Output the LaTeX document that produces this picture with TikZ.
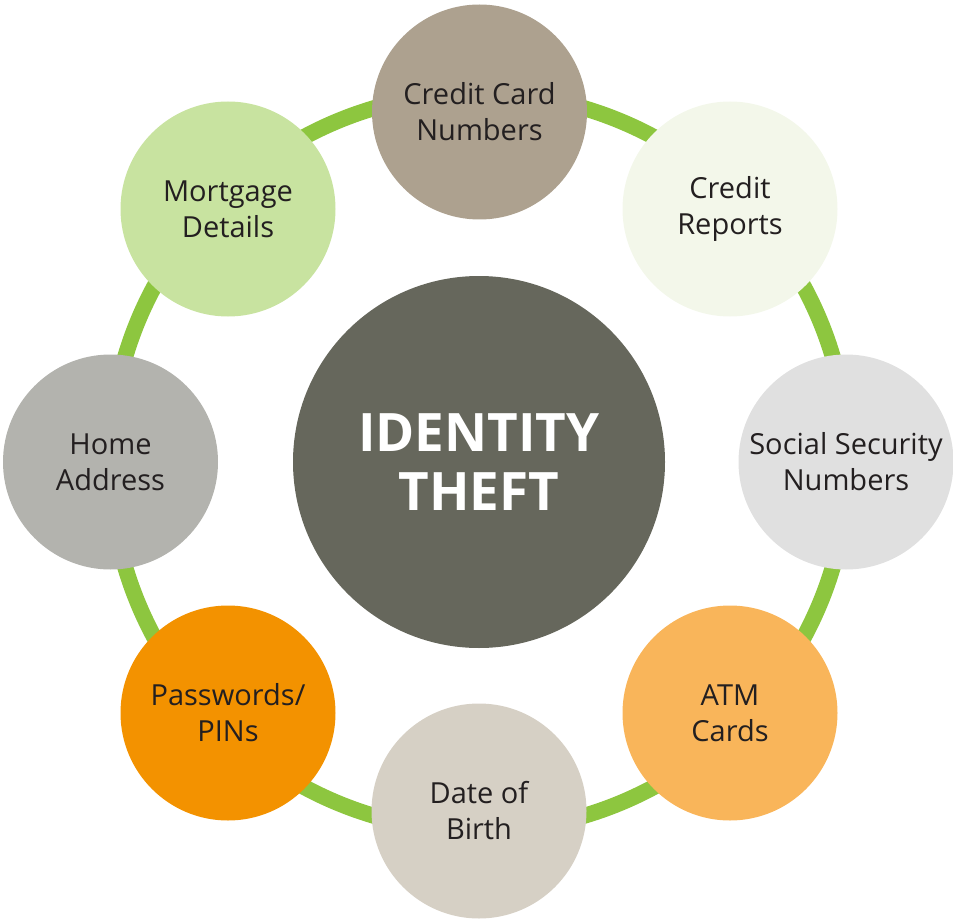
\documentclass[tikz,border=0pt]{standalone}
\usepackage{fontspec}
\setmainfont{Open Sans}
\definecolor{ringgreen}{HTML}{8DC63F}
\definecolor{txt}{HTML}{231F20}
\definecolor{ccard}{HTML}{ADA18F}
\definecolor{creport}{HTML}{F3F7EA}
\definecolor{ssn}{HTML}{E0E0E0}
\definecolor{atm}{HTML}{F9B55A}
\definecolor{dob}{HTML}{D6D0C5}
\definecolor{pwd}{HTML}{F39200}
\definecolor{home}{HTML}{B3B3AE}
\definecolor{mort}{HTML}{C8E3A0}
\definecolor{core}{HTML}{66675C}
\tikzset{
  item/.style={circle, fill=#1, draw=none, minimum size=215pt, inner sep=0pt,
    align=center, text=txt, font=\fontsize{29}{36}\selectfont},
  hub/.style={circle, fill=core, draw=none, minimum size=372pt, inner sep=0pt,
    align=center, text=white, font=\bfseries\fontsize{53}{59}\selectfont},
  ring/.style={draw=ringgreen, line width=16pt}
}
\begin{document}
\begin{tikzpicture}[x=1pt,y=-1pt]
\useasboundingbox (0,0) rectangle (953,920);
\coordinate (c) at (479,462);
\draw[ring] (c) circle[radius=369];
\node[hub] (center) at (479,462) {IDENTITY\\THEFT};
\node[item=ccard] (cc) at (479.5,112) {Credit Card\\Numbers};
\node[item=creport] (cr) at (730,209) {Credit\\Reports};
\node[item=ssn] (ss) at (846,462) {Social Security\\Numbers};
\node[item=atm] (atmc) at (730,713) {ATM\\Cards};
\node[item=dob] (db) at (479,811) {Date of\\Birth};
\node[item=pwd] (pw) at (228,713) {Passwords/\\PINs};
\node[item=home] (ha) at (110.5,462) {Home\\Address};
\node[item=mort] (md) at (228,209) {Mortgage\\Details};
\end{tikzpicture}
\end{document}
